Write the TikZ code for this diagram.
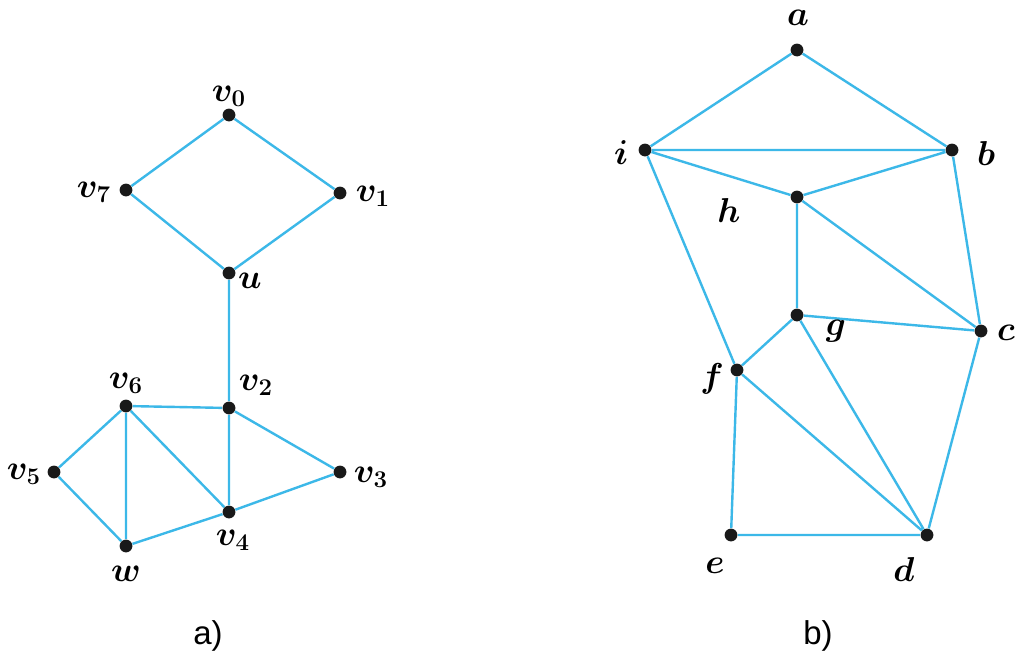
\documentclass[tikz,border=0pt]{standalone}
\usepackage{fontspec}
\newfontfamily\capfont{Liberation Sans}
\definecolor{edgeblue}{RGB}{60,184,232}
\tikzset{
  vtx/.style={circle,fill=black!90,inner sep=0pt,minimum size=6.4pt},
  edge/.style={draw=edgeblue,line width=1.2pt},
  lbl/.style={inner sep=0pt,font=\fontsize{17}{19}\selectfont\boldmath},
  captext/.style={inner sep=0pt,font=\capfont\fontsize{16.5}{18}\selectfont}
}
\begin{document}
\begin{tikzpicture}[x=0.5pt,y=-0.5pt]
\useasboundingbox (0,0) rectangle (1017,659);
\fill[white] (0,0) rectangle (1017,659);
% graph a
\node[vtx] (v0) at (229,115) {};
\node[vtx] (v7) at (126,190) {};
\node[vtx] (v1) at (340,193) {};
\node[vtx] (u)  at (229,273) {};
\node[vtx] (v2) at (229,408) {};
\node[vtx] (v6) at (126,406) {};
\node[vtx] (v5) at (54,472) {};
\node[vtx] (v3) at (340,472) {};
\node[vtx] (v4) at (229,512) {};
\node[vtx] (w)  at (126,546) {};
\draw[edge] (v0) -- (v7) (v0) -- (v1) (v7) -- (u) (v1) -- (u) (u) -- (v2)
  (v6) -- (v2) (v6) -- (v5) (v6) -- (w) (v6) -- (v4) (v2) -- (v4) (v2) -- (v3)
  (v5) -- (w) (w) -- (v4) (v4) -- (v3);
\node[lbl] (lv0) at (229,96) {$v_0$};
\node[lbl] (lv7) at (94,192) {$v_7$};
\node[lbl] (lv1) at (373,196) {$v_1$};
\node[lbl] (lu)  at (250,281) {$u$};
\node[lbl] (lv6) at (126,383) {$v_6$};
\node[lbl] (lv2) at (256,385) {$v_2$};
\node[lbl] (lv5) at (24,474) {$v_5$};
\node[lbl] (lv3) at (371,477) {$v_3$};
\node[lbl] (lv4) at (233,540) {$v_4$};
\node[lbl] (lw)  at (126,574) {$w$};
% graph b
\node[vtx] (a) at (797,50) {};
\node[vtx] (i) at (645,150) {};
\node[vtx] (b) at (952,150) {};
\node[vtx] (h) at (797,197) {};
\node[vtx] (g) at (797,315) {};
\node[vtx] (c) at (981,331) {};
\node[vtx] (f) at (737,370) {};
\node[vtx] (e) at (731,535) {};
\node[vtx] (d) at (927,535) {};
\draw[edge] (a) -- (i) (a) -- (b) (i) -- (b) (i) -- (h) (h) -- (b) (i) -- (f)
  (b) -- (c) (h) -- (g) (h) -- (c) (g) -- (c) (g) -- (f) (g) -- (d)
  (f) -- (d) (f) -- (e) (e) -- (d) (c) -- (d);
\node[lbl] (la) at (798,18) {$a$};
\node[lbl] (li) at (621,153) {$i$};
\node[lbl] (lb) at (986,153) {$b$};
\node[lbl] (lh) at (729,210) {$h$};
\node[lbl] (lg) at (836,331) {$g$};
\node[lbl] (lc) at (1006,333) {$c$};
\node[lbl] (lf) at (712,379) {$f$};
\node[lbl] (le) at (715,566) {$e$};
\node[lbl] (ld) at (904,569) {$d$};
% captions
\node[captext] (capa) at (208,636) {a)};
\node[captext] (capb) at (818,636) {b)};
\end{tikzpicture}
\end{document}
